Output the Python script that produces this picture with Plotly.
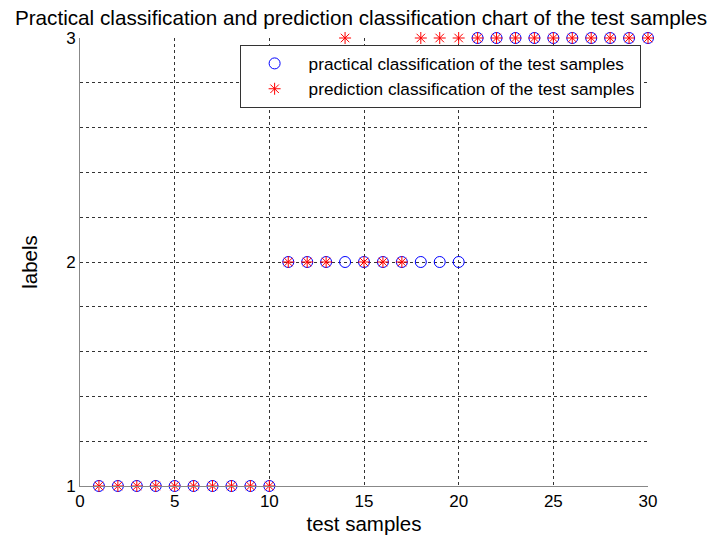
import plotly.graph_objects as go

samples = list(range(1, 31))
practical = [1]*10 + [2]*10 + [3]*10
predicted = [1]*10 + [2, 2, 2, 3, 2, 2, 2, 3, 3, 3] + [3]*10

ytick_vals = [1, 1.2, 1.4, 1.6, 1.8, 2, 2.2, 2.4, 2.6, 2.8, 3]
ytick_text = ["1", "", "", "", "", "2", "", "", "", "", "3"]
xtick_vals = [0, 5, 10, 15, 20, 25, 30]

font = "Liberation Sans, Arial, Helvetica, sans-serif"

fig = go.Figure()
fig.add_trace(go.Scatter(
    x=samples, y=practical, mode="markers",
    name="practical classification of the test samples",
    marker=dict(symbol="circle-open", size=11, color="#0000ff",
                line=dict(width=1, color="#0000ff")),
    cliponaxis=False,
))
fig.add_trace(go.Scatter(
    x=samples, y=predicted, mode="markers",
    name="prediction classification of the test samples",
    marker=dict(symbol="asterisk-open", size=10, color="#ff0000",
                line=dict(width=1, color="#ff0000")),
    cliponaxis=False,
))

fig.update_layout(
    width=712, height=535,
    margin=dict(l=80, r=64, t=38, b=49),
    paper_bgcolor="white", plot_bgcolor="white",
    font=dict(family=font, size=16, color="black"),
    title=dict(text="Practical classification and prediction classification chart of the test samples",
               x=0.5 + 5/712, xanchor="center", y=1 - 18/535, yanchor="middle",
               font=dict(size=20.7, family=font, color="black")),
    showlegend=True,
    legend=dict(x=0.987, y=0.985, xanchor="right", yanchor="top",
                bgcolor="white", bordercolor="#333333", borderwidth=1,
                font=dict(size=17.2, family=font, color="black"),
                itemwidth=58, tracegroupgap=0),
    xaxis=dict(range=[0, 30], tickvals=xtick_vals, showgrid=True,
               gridcolor="#333333", griddash="dot", gridwidth=1,
               showline=True, linecolor="#888888", linewidth=1,
               zeroline=False, ticks="", tickfont=dict(size=17),
               automargin=False,
               title=dict(text="test samples", font=dict(size=20.5), standoff=8)),
    yaxis=dict(range=[1, 3], tickvals=ytick_vals, ticktext=ytick_text,
               showgrid=True, gridcolor="#333333", griddash="dot", gridwidth=1,
               showline=True, linecolor="#888888", linewidth=1,
               zeroline=False, ticks="", tickfont=dict(size=17),
               automargin=False,
               title=dict(text="labels", font=dict(size=20.5), standoff=22)),
)

fig.write_html("out.html")
